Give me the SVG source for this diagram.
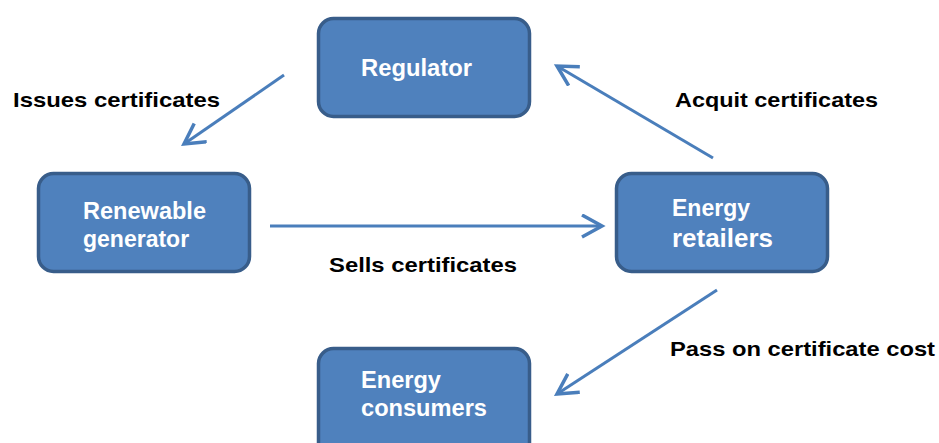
<svg xmlns="http://www.w3.org/2000/svg" width="939" height="443" viewBox="0 0 939 443">
<style>
.box{fill:#4F81BD;stroke:#385D8A;stroke-width:3.5}
.nt{font-family:"Liberation Sans",Arial,sans-serif;font-weight:bold;fill:#FFFFFF;font-size:23px}
.lb{font-family:"Liberation Sans",Arial,sans-serif;font-weight:bold;fill:#000000;font-size:21px}
.conn{stroke:#4A7EBB;stroke-width:3;fill:none;marker-end:url(#ah)}
</style>
<defs>
<marker id="ah" markerUnits="userSpaceOnUse" markerWidth="26" markerHeight="28" refX="21" refY="12" orient="auto" viewBox="0 0 26 28">
<path d="M1,1 L21,12 L1,23" fill="none" stroke="#4A7EBB" stroke-width="3.5" stroke-linejoin="miter"/>
</marker>
</defs>
<g id="connectors">
<line class="conn" x1="284" y1="75" x2="184" y2="144"/>
<line class="conn" x1="713" y1="158" x2="557" y2="66"/>
<line class="conn" x1="270" y1="226" x2="602" y2="226"/>
<line class="conn" x1="717" y1="290" x2="557" y2="394"/>
</g>
<g id="regulator">
<rect class="box" x="318.5" y="18.5" width="211" height="98" rx="15"/>
<text class="nt" x="361" y="76" textLength="111" lengthAdjust="spacingAndGlyphs">Regulator</text>
</g>
<g id="renewable-generator">
<rect class="box" x="38.5" y="173.5" width="211" height="98" rx="15"/>
<text class="nt" x="83" y="219" textLength="123" lengthAdjust="spacingAndGlyphs">Renewable</text>
<text class="nt" x="83" y="247">generator</text>
</g>
<g id="energy-retailers">
<rect class="box" x="616.5" y="173.5" width="211" height="98" rx="15"/>
<text class="nt" x="672" y="216" textLength="78" lengthAdjust="spacingAndGlyphs">Energy</text>
<text class="nt" x="672" y="247" style="font-size:25px" textLength="101" lengthAdjust="spacingAndGlyphs">retailers</text>
</g>
<g id="energy-consumers">
<rect class="box" x="318.5" y="348.5" width="211" height="110" rx="15"/>
<text class="nt" x="361" y="388" textLength="80" lengthAdjust="spacingAndGlyphs">Energy</text>
<text class="nt" x="361" y="416" textLength="126" lengthAdjust="spacingAndGlyphs">consumers</text>
</g>
<g id="labels">
<text class="lb" x="13" y="107" textLength="207" lengthAdjust="spacingAndGlyphs">Issues certificates</text>
<text class="lb" x="675" y="107" textLength="203" lengthAdjust="spacingAndGlyphs">Acquit certificates</text>
<text class="lb" x="329" y="272" textLength="188" lengthAdjust="spacingAndGlyphs">Sells certificates</text>
<text class="lb" x="670" y="356" textLength="265" lengthAdjust="spacingAndGlyphs">Pass on certificate cost</text>
</g>
</svg>
